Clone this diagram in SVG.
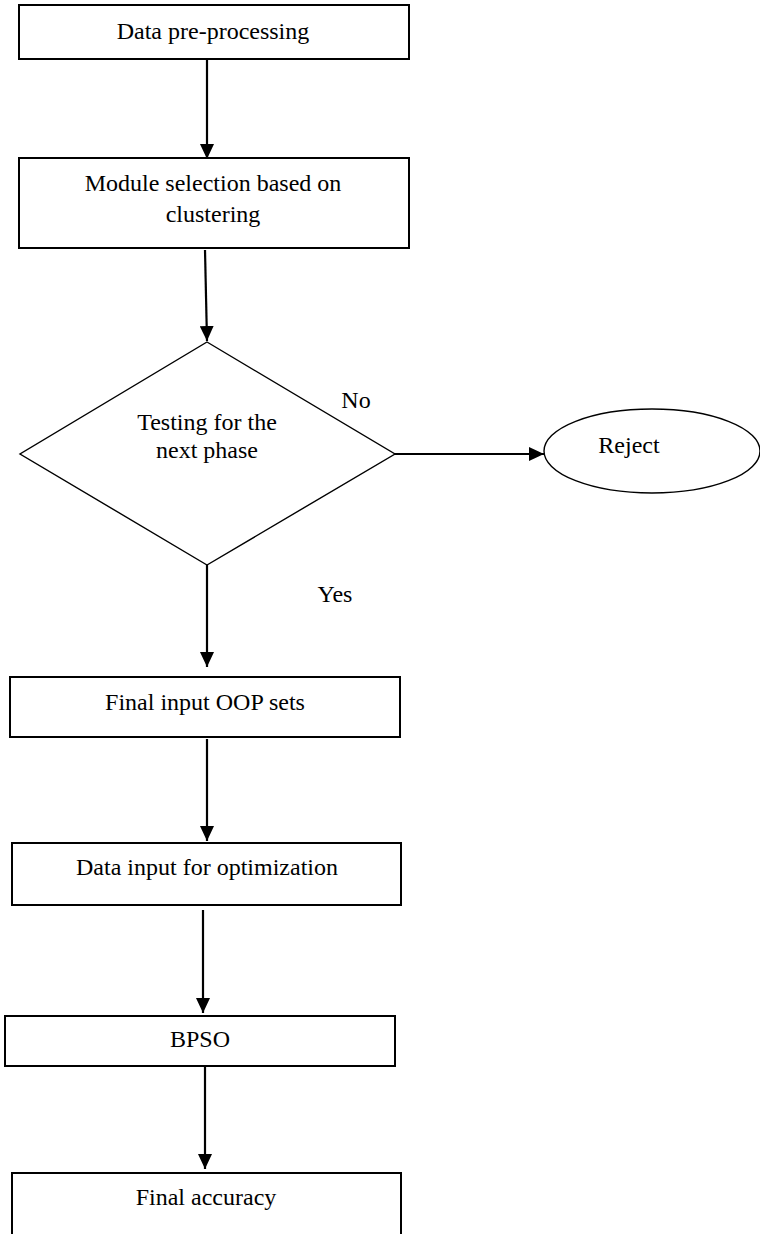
<svg xmlns="http://www.w3.org/2000/svg" width="760" height="1234" viewBox="0 0 760 1234" font-family="Liberation Serif, DejaVu Serif, serif">
<style>
.box{fill:#fff;stroke:#000;stroke-width:2}
.thin{fill:#fff;stroke:#000;stroke-width:1.4}
text{font-family:'Liberation Serif','DejaVu Serif',serif;font-size:24px;fill:#000;text-anchor:middle}
.con{stroke:#000;stroke-width:2.2;fill:none}
</style>
<defs>
<marker id="ah" markerUnits="userSpaceOnUse" markerWidth="15" markerHeight="14" refX="15" refY="7" orient="auto">
<path d="M0,0 L15,7 L0,14 z" fill="#000"/>
</marker>
</defs>
<rect width="760" height="1234" fill="#fff"/>
<g id="connectors">
<line class="con" x1="207" y1="59" x2="207" y2="159" marker-end="url(#ah)"/>
<line class="con" x1="205" y1="250" x2="207" y2="341" marker-end="url(#ah)"/>
<line class="con" x1="395" y1="454" x2="544" y2="454" marker-end="url(#ah)"/>
<line class="con" x1="207" y1="565" x2="207" y2="667" marker-end="url(#ah)"/>
<line class="con" x1="207" y1="739" x2="207" y2="841" marker-end="url(#ah)"/>
<line class="con" x1="203" y1="910" x2="203" y2="1013" marker-end="url(#ah)"/>
<line class="con" x1="205" y1="1066" x2="205" y2="1169" marker-end="url(#ah)"/>
<text x="356" y="408">No</text>
<text x="335" y="602">Yes</text>
</g>
<g id="n1">
<rect class="box" x="19" y="5" width="390" height="54"/>
<text x="213" y="39">Data pre-processing</text>
</g>
<g id="n2">
<rect class="box" x="19" y="158" width="390" height="90"/>
<text x="213" y="191">Module selection based on</text>
<text x="213" y="222">clustering</text>
</g>
<g id="n3">
<polygon class="thin" points="207,342 395,454 207,565 20,454"/>
<text x="207" y="430">Testing for the</text>
<text x="207" y="458">next phase</text>
</g>
<g id="n4">
<ellipse class="thin" cx="652" cy="451" rx="108" ry="42"/>
<text x="629" y="453">Reject</text>
</g>
<g id="n5">
<rect class="box" x="10" y="677" width="390" height="60"/>
<text x="205" y="710">Final input OOP sets</text>
</g>
<g id="n6">
<rect class="box" x="12" y="843" width="389" height="62"/>
<text x="207" y="875">Data input for optimization</text>
</g>
<g id="n7">
<rect class="box" x="5" y="1016" width="390" height="50"/>
<text x="200" y="1047">BPSO</text>
</g>
<g id="n8">
<path class="box" d="M12,1240 V1173 H401 V1240"/>
<text x="206" y="1205">Final accuracy</text>
</g>
</svg>
